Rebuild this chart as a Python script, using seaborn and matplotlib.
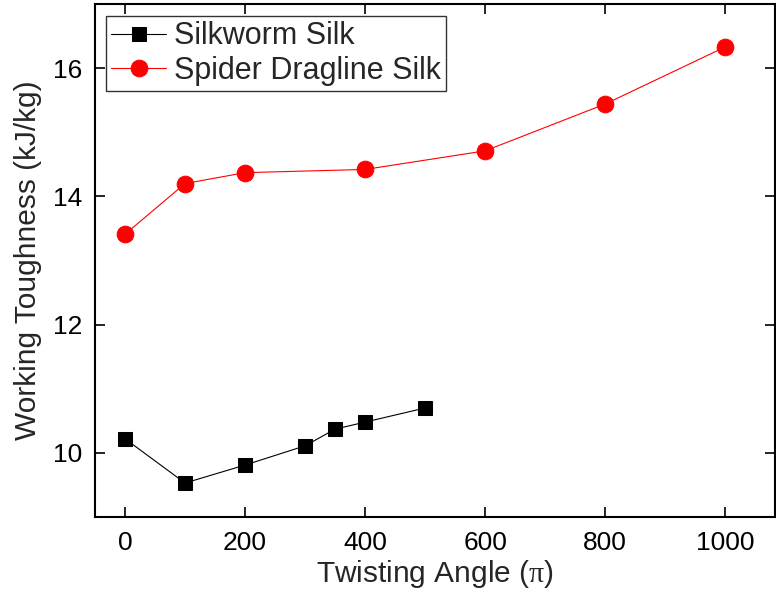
import matplotlib
matplotlib.use("Agg")
import matplotlib.pyplot as plt
import seaborn as sns
import pandas as pd

silkworm_x = [0, 100, 200, 300, 350, 400, 500]
silkworm_y = [10.22, 9.53, 9.81, 10.11, 10.37, 10.48, 10.70]
spider_x = [0, 100, 200, 400, 600, 800, 1000]
spider_y = [13.41, 14.20, 14.37, 14.42, 14.71, 15.44, 16.33]
series_names = ["Silkworm Silk", "Spider Dragline Silk"]
x_ticks = [0, 200, 400, 600, 800, 1000]
y_ticks = [10, 12, 14, 16]

sns.set_style("ticks")
plt.rcParams["font.family"] = ["Liberation Sans", "DejaVu Sans"]
plt.rcParams["mathtext.fontset"] = "custom"
plt.rcParams["mathtext.rm"] = "Liberation Serif"
plt.rcParams["mathtext.it"] = "Liberation Serif:italic"

df_worm = pd.DataFrame({"x": silkworm_x, "y": silkworm_y})
df_spider = pd.DataFrame({"x": spider_x, "y": spider_y})

fig = plt.figure(figsize=(7.76, 5.94), dpi=100)
ax = fig.add_axes([95/776, (594-517)/594, 680/776, 513/594])

sns.lineplot(data=df_worm, x="x", y="y", ax=ax, color="black", marker="s",
             markersize=10, markeredgecolor="black", linewidth=0.8,
             label=series_names[0])
sns.lineplot(data=df_spider, x="x", y="y", ax=ax, color="#ff0000", marker="o",
             markersize=12, markeredgecolor="#ff0000", linewidth=0.8,
             label=series_names[1])

ax.set_xlim(-50, 1083)
ax.set_ylim(9, 17)
ax.set_xticks(x_ticks)
ax.set_yticks(y_ticks)
ax.tick_params(direction="in", length=7, width=1.2, top=True, right=True,
               labelsize=19, pad=9, colors="black")
ax.tick_params(axis="x", pad=10)
for s in ax.spines.values():
    s.set_linewidth(1.5)
    s.set_color("black")
    s.set_visible(True)

ax.set_xlabel(r"Twisting Angle ($\mathrm{\pi}$)", fontsize=21.5, labelpad=2)
ax.set_ylabel("Working Toughness (kJ/kg)", fontsize=21.5, labelpad=8)

leg = ax.legend(loc="upper left", bbox_to_anchor=(0.016, 0.977), fontsize=22,
                frameon=True, fancybox=False, edgecolor="black",
                handlelength=1.8, handletextpad=0.25, borderpad=0.18,
                labelspacing=0.15, borderaxespad=0)
leg.get_frame().set_linewidth(1.0)

fig.savefig("out.png", dpi=100)
